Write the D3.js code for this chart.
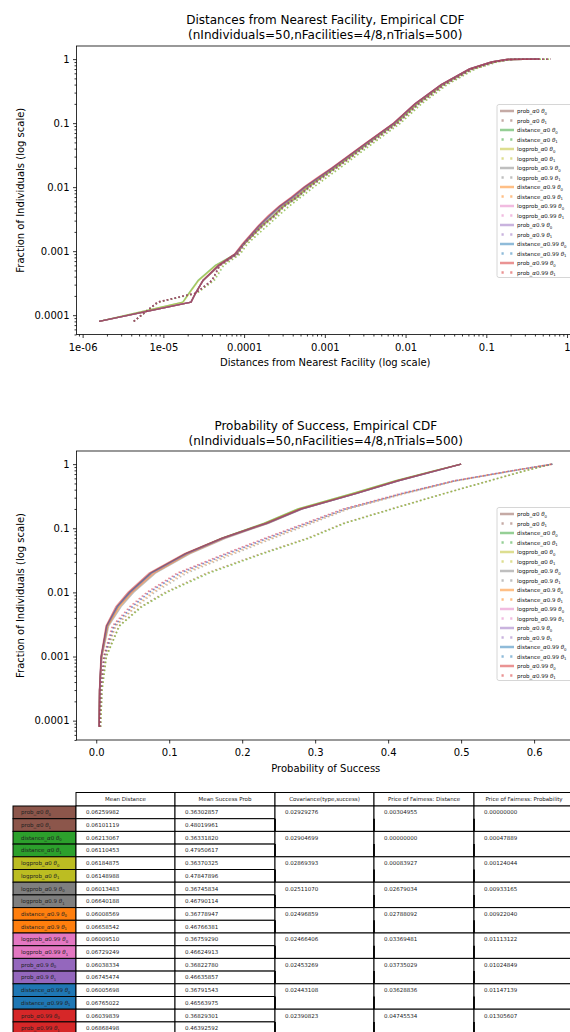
<!DOCTYPE html>
<html><head><meta charset="utf-8">
<script src="https://cdn.jsdelivr.net/npm/d3@7"></script>
<style>body{margin:0;background:#fff;} svg{display:block;font-family:"DejaVu Sans",sans-serif;}</style>
</head><body><svg id="c" width="570" height="1032"></svg>
<script>
// ---------------- series identity ----------------
const methods = ["prob","distance","logprob","logprob","distance","logprob","prob","distance","prob"];
const alphas  = ["0","0","0","0.9","0.9","0.99","0.9","0.99","0.99"];
const groupColors = ["#8c564b","#2ca02c","#bcbd22","#7f7f7f","#ff7f0e","#e377c2","#9467bd","#1f77b4","#d62728"];
const thetas = ["0","1"];

// ---------------- chart 1: distance CDF (fraction levels, distance quantiles) ----------------
const distFracLevels = [0.00008,0.00016,0.00022,0.00035,0.0006,0.0009,0.0013,0.0025,0.0036,0.005,0.007,0.01,0.014,0.02,0.05,0.1,0.2,0.4,0.7,0.9,0.99,1];
const dist_prob_a0_t0      = [1.6e-6,2.2e-5,2.5e-5,3.1e-5,5.0e-5,8.1e-5,1.0e-4,1.62e-4,2.3e-4,2.95e-4,4.3e-4,6.0e-4,8.6e-4,1.3e-3,3.45e-3,7.4e-3,0.0135,0.0283,0.063,0.118,0.182,0.46];
const dist_prob_a0_t1      = [4.3e-6,8.5e-6,2.5e-5,4.1e-5,5.0e-5,8.5e-5,1.03e-4,1.75e-4,2.5e-4,3.2e-4,4.7e-4,6.6e-4,9.6e-4,1.42e-3,3.8e-3,8.1e-3,0.0148,0.031,0.069,0.13,0.2,0.63];
const dist_distance_a0_t0  = [1.6e-6,1.74e-5,2.07e-5,2.7e-5,4.4e-5,7.8e-5,1.0e-4,1.7e-4,2.35e-4,3.1e-4,4.6e-4,6.3e-4,9.0e-4,1.36e-3,3.6e-3,7.7e-3,0.0141,0.0295,0.065,0.122,0.186,0.46];
const dist_distance_a0_t1  = [4.3e-6,8.8e-6,2.6e-5,4.3e-5,5.6e-5,9.0e-5,1.1e-4,1.95e-4,2.7e-4,3.6e-4,5.1e-4,7.3e-4,1.05e-3,1.55e-3,4.1e-3,8.7e-3,0.0158,0.033,0.073,0.136,0.21,0.64];
const dist_logprob_a0_t0   = [1.6e-6,1.76e-5,2.1e-5,2.75e-5,4.5e-5,7.9e-5,1.0e-4,1.68e-4,2.4e-4,3.05e-4,4.5e-4,6.2e-4,8.9e-4,1.34e-3,3.55e-3,7.6e-3,0.0139,0.0292,0.0645,0.121,0.185,0.46];
const dist_logprob_a0_t1   = [4.3e-6,8.7e-6,2.6e-5,4.2e-5,5.5e-5,8.9e-5,1.09e-4,1.92e-4,2.65e-4,3.55e-4,5.0e-4,7.2e-4,1.04e-3,1.53e-3,4.05e-3,8.6e-3,0.0156,0.0327,0.072,0.135,0.208,0.64];
const dist_logprob_a09_t0  = [1.6e-6,2.2e-5,2.5e-5,3.1e-5,4.9e-5,8.0e-5,1.0e-4,1.58e-4,2.15e-4,2.85e-4,4.1e-4,5.8e-4,8.5e-4,1.27e-3,3.4e-3,7.3e-3,0.0133,0.028,0.0625,0.117,0.18,0.45];
const dist_logprob_a09_t1  = [4.3e-6,8.5e-6,2.5e-5,4.0e-5,5.0e-5,8.4e-5,1.02e-4,1.72e-4,2.45e-4,3.15e-4,4.6e-4,6.5e-4,9.3e-4,1.4e-3,3.75e-3,8.0e-3,0.0146,0.0307,0.068,0.128,0.198,0.62];
const dist_distance_a09_t0 = [1.6e-6,2.2e-5,2.5e-5,3.1e-5,4.9e-5,7.9e-5,9.9e-5,1.56e-4,2.1e-4,2.8e-4,4.05e-4,5.75e-4,8.4e-4,1.26e-3,3.38e-3,7.25e-3,0.0132,0.0279,0.0622,0.116,0.179,0.45];
const dist_distance_a09_t1 = [4.3e-6,8.5e-6,2.5e-5,4.0e-5,5.0e-5,8.3e-5,1.01e-4,1.7e-4,2.4e-4,3.12e-4,4.55e-4,6.45e-4,9.2e-4,1.39e-3,3.72e-3,7.95e-3,0.0145,0.0305,0.0675,0.127,0.197,0.62];
const dist_logprob_a099_t0 = [1.6e-6,2.2e-5,2.5e-5,3.1e-5,4.8e-5,7.7e-5,9.7e-5,1.52e-4,2.05e-4,2.75e-4,3.95e-4,5.6e-4,8.2e-4,1.24e-3,3.35e-3,7.2e-3,0.0131,0.0277,0.062,0.116,0.178,0.45];
const dist_logprob_a099_t1 = [4.3e-6,8.5e-6,2.5e-5,4.0e-5,5.0e-5,8.2e-5,1.0e-4,1.68e-4,2.4e-4,3.1e-4,4.5e-4,6.4e-4,9.2e-4,1.38e-3,3.7e-3,7.9e-3,0.0144,0.0303,0.067,0.126,0.196,0.62];
const dist_prob_a09_t0     = [1.6e-6,2.2e-5,2.5e-5,3.1e-5,4.9e-5,7.8e-5,9.8e-5,1.55e-4,2.12e-4,2.78e-4,4.0e-4,5.7e-4,8.3e-4,1.25e-3,3.37e-3,7.2e-3,0.0131,0.0278,0.0621,0.116,0.179,0.45];
const dist_prob_a09_t1     = [4.3e-6,8.5e-6,2.5e-5,4.0e-5,5.0e-5,8.3e-5,1.01e-4,1.69e-4,2.42e-4,3.1e-4,4.52e-4,6.42e-4,9.2e-4,1.385e-3,3.71e-3,7.92e-3,0.0145,0.0304,0.0672,0.127,0.197,0.62];
const dist_distance_a099_t0= [1.6e-6,2.2e-5,2.5e-5,3.1e-5,4.8e-5,7.7e-5,9.7e-5,1.53e-4,2.07e-4,2.76e-4,3.98e-4,5.62e-4,8.25e-4,1.245e-3,3.36e-3,7.2e-3,0.0131,0.0277,0.062,0.116,0.178,0.45];
const dist_distance_a099_t1= [4.3e-6,8.5e-6,2.5e-5,4.0e-5,5.0e-5,8.2e-5,1.0e-4,1.67e-4,2.38e-4,3.08e-4,4.48e-4,6.38e-4,9.1e-4,1.375e-3,3.69e-3,7.88e-3,0.0144,0.0302,0.0668,0.126,0.196,0.62];
const dist_prob_a099_t0    = [1.6e-6,2.2e-5,2.5e-5,3.1e-5,4.8e-5,7.6e-5,9.5e-5,1.5e-4,2.0e-4,2.7e-4,3.85e-4,5.5e-4,8.0e-4,1.22e-3,3.3e-3,7.1e-3,0.013,0.0275,0.0615,0.115,0.177,0.45];
const dist_prob_a099_t1    = [4.3e-6,8.5e-6,2.5e-5,4.0e-5,5.0e-5,8.1e-5,9.9e-5,1.66e-4,2.36e-4,3.05e-4,4.45e-4,6.3e-4,9.0e-4,1.36e-3,3.66e-3,7.85e-3,0.0143,0.03,0.0665,0.125,0.195,0.62];

// ---------------- chart 2: success probability CDF ----------------
const succFracLevels = [0.00008,0.0003,0.001,0.003,0.006,0.01,0.02,0.04,0.07,0.12,0.2,0.35,0.55,0.8,1];
const succ_prob_a0_t0      = [0.004,0.0046,0.007,0.0145,0.029,0.046,0.075,0.123,0.173,0.232,0.279,0.354,0.412,0.466,0.5];
const succ_prob_a0_t1      = [0.006,0.0078,0.0135,0.031,0.061,0.094,0.151,0.225,0.289,0.339,0.404,0.477,0.538,0.589,0.625];
const succ_distance_a0_t0  = [0.004,0.0047,0.0072,0.015,0.03,0.047,0.076,0.123,0.172,0.23,0.276,0.351,0.41,0.465,0.5];
const succ_distance_a0_t1  = [0.006,0.008,0.014,0.032,0.063,0.097,0.155,0.228,0.292,0.341,0.406,0.478,0.539,0.59,0.625];
const succ_logprob_a0_t0   = [0.004,0.0047,0.0073,0.0152,0.0305,0.0475,0.0765,0.124,0.173,0.231,0.277,0.352,0.411,0.466,0.5];
const succ_logprob_a0_t1   = [0.006,0.0079,0.0138,0.0315,0.062,0.096,0.153,0.227,0.291,0.34,0.405,0.478,0.539,0.59,0.625];
const succ_logprob_a09_t0  = [0.004,0.0048,0.0078,0.017,0.034,0.051,0.081,0.128,0.177,0.236,0.282,0.357,0.414,0.468,0.5];
const succ_logprob_a09_t1  = [0.005,0.0065,0.012,0.027,0.055,0.08,0.124,0.189,0.243,0.296,0.346,0.424,0.494,0.575,0.625];
const succ_distance_a09_t0 = [0.004,0.0047,0.0074,0.0158,0.032,0.049,0.079,0.126,0.175,0.235,0.281,0.357,0.414,0.468,0.5];
const succ_distance_a09_t1 = [0.005,0.0064,0.0115,0.026,0.053,0.077,0.12,0.185,0.24,0.293,0.344,0.423,0.493,0.574,0.625];
const succ_logprob_a099_t0 = [0.004,0.0046,0.007,0.0148,0.03,0.0475,0.077,0.124,0.174,0.234,0.281,0.357,0.414,0.468,0.5];
const succ_logprob_a099_t1 = [0.005,0.0062,0.0105,0.0235,0.048,0.071,0.113,0.178,0.233,0.288,0.34,0.42,0.491,0.573,0.625];
const succ_prob_a09_t0     = [0.004,0.0046,0.0069,0.0145,0.029,0.046,0.075,0.123,0.173,0.234,0.281,0.357,0.414,0.468,0.5];
const succ_prob_a09_t1     = [0.005,0.0062,0.0108,0.024,0.049,0.072,0.114,0.179,0.234,0.289,0.341,0.42,0.491,0.573,0.625];
const succ_distance_a099_t0= [0.004,0.0046,0.0068,0.0142,0.0285,0.0455,0.0745,0.1225,0.173,0.234,0.281,0.357,0.414,0.468,0.5];
const succ_distance_a099_t1= [0.005,0.0063,0.011,0.0245,0.05,0.073,0.116,0.181,0.236,0.29,0.342,0.421,0.492,0.574,0.625];
const succ_prob_a099_t0    = [0.004,0.0045,0.0065,0.0135,0.027,0.0437,0.0726,0.121,0.172,0.233,0.28,0.356,0.413,0.467,0.5];
const succ_prob_a099_t1    = [0.005,0.006,0.01,0.022,0.046,0.069,0.111,0.176,0.231,0.286,0.338,0.418,0.49,0.572,0.625];

// ---------------- tick labels ----------------
const distTickValues = [1e-6,1e-5,1e-4,1e-3,1e-2,1e-1,1];
const distTickLabels = ["1e-06","1e-05","0.0001","0.001","0.01","0.1","1"];
const fracTickValues = [1e-4,1e-3,1e-2,1e-1,1];
const fracTickLabels = ["0.0001","0.001","0.01","0.1","1"];
const succTickValues = [0,0.1,0.2,0.3,0.4,0.5,0.6];
const succTickLabels = ["0.0","0.1","0.2","0.3","0.4","0.5","0.6"];

// ---------------- table ----------------
const tableHeaders = ["Mean Distance","Mean Success Prob","Covariance(type,success)","Price of Fairness: Distance","Price of Fairness: Probability"];
const meanDistance = ["0.06259982","0.06101119","0.06213067","0.06110453","0.06184875","0.06148988","0.06013483","0.06640188","0.06008569","0.06658542","0.06009510","0.06729249","0.06038334","0.06745474","0.06005698","0.06765022","0.06039839","0.06868498"];
const meanSuccess = ["0.36302857","0.48019961","0.36331820","0.47950617","0.36370325","0.47847896","0.36745834","0.46790114","0.36778947","0.46766381","0.36759290","0.46624913","0.36822780","0.46635857","0.36791543","0.46563975","0.36829301","0.46392592"];
const covariance = ["0.02929276","0.02904699","0.02869393","0.02511070","0.02496859","0.02466406","0.02453269","0.02443108","0.02390823"];
const pofDistance = ["0.00304955","0.00000000","0.00083927","0.02679034","0.02788092","0.03369481","0.03735029","0.03628836","0.04745534"];
const pofProbability = ["0.00000000","0.00047889","0.00124044","0.00933165","0.00922040","0.01113122","0.01024849","0.01147139","0.01305607"];

// ---------------- assemble ----------------
const distSeries = [dist_prob_a0_t0,dist_prob_a0_t1,dist_distance_a0_t0,dist_distance_a0_t1,dist_logprob_a0_t0,dist_logprob_a0_t1,dist_logprob_a09_t0,dist_logprob_a09_t1,dist_distance_a09_t0,dist_distance_a09_t1,dist_logprob_a099_t0,dist_logprob_a099_t1,dist_prob_a09_t0,dist_prob_a09_t1,dist_distance_a099_t0,dist_distance_a099_t1,dist_prob_a099_t0,dist_prob_a099_t1];
const succSeries = [succ_prob_a0_t0,succ_prob_a0_t1,succ_distance_a0_t0,succ_distance_a0_t1,succ_logprob_a0_t0,succ_logprob_a0_t1,succ_logprob_a09_t0,succ_logprob_a09_t1,succ_distance_a09_t0,succ_distance_a09_t1,succ_logprob_a099_t0,succ_logprob_a099_t1,succ_prob_a09_t0,succ_prob_a09_t1,succ_distance_a099_t0,succ_distance_a099_t1,succ_prob_a099_t0,succ_prob_a099_t1];
const entries = [];
methods.forEach((m,g)=>thetas.forEach(t=>entries.push({method:m,alpha:alphas[g],theta:t,color:groupColors[g],group:g})));

const svg = d3.select("#c");
const FONT = '"DejaVu Sans", sans-serif';

function label(sel, e, fs){
  sel.append("tspan").text(e.method+"_");
  sel.append("tspan").attr("font-style","italic").text("α");
  sel.append("tspan").text(e.alpha+" ");
  sel.append("tspan").attr("font-style","italic").text("θ");
  sel.append("tspan").attr("font-size",fs*0.7).attr("dy",fs*0.28).text(e.theta);
}

function logMargin(ext){
  const lo=Math.log10(ext[0]), hi=Math.log10(ext[1]), m=(hi-lo)*0.05;
  return [Math.pow(10,lo-m), Math.pow(10,hi+m)];
}
function linMargin(ext){ const m=(ext[1]-ext[0])*0.05; return [ext[0]-m, ext[1]+m]; }
function logMinors(dom){
  const out=[]; for(let k=-8;k<=1;k++) for(let m=2;m<=9;m++){const v=m*Math.pow(10,k); if(v>=dom[0]&&v<=dom[1]) out.push(v);} return out;
}

function drawChart(o){
  const g = svg.append("g");
  const {left,right,top,bottom} = o;
  const x = o.x.range([left,right]);
  const y = d3.scaleLog().domain(logMargin([d3.min(o.levels),d3.max(o.levels)])).range([bottom,top]);
  const cid = "clip"+o.id;
  svg.append("clipPath").attr("id",cid).append("rect").attr("x",left).attr("y",top).attr("width",right-left).attr("height",bottom-top);

  // lines
  const line = d3.line().x(d=>x(d[0])).y(d=>y(d[1]));
  const lg = g.append("g").attr("clip-path",`url(#${cid})`);
  o.series.forEach((vals,i)=>{
    const e = entries[i];
    const pts = vals.map((v,j)=>[v,o.levels[j]]);
    lg.append("path").attr("d",line(pts)).attr("fill","none")
      .attr("stroke",e.color).attr("stroke-opacity",0.5).attr("stroke-width",1.5)
      .attr("stroke-dasharray", e.theta==="1" ? "1.5,2.5" : null);
  });

  // axes
  const styleAxis = a => { a.select(".domain").remove(); a.selectAll("text").attr("font-size",10).attr("font-family",FONT).attr("fill","#000"); a.selectAll("line").attr("stroke","#000").attr("stroke-width",0.8); };
  const xa = g.append("g").attr("transform",`translate(0,${bottom})`)
    .call(d3.axisBottom(x).tickValues(o.xTicks).tickFormat((d,i)=>o.xLabels[i]).tickSize(3.5).tickPadding(5.5).tickSizeOuter(0));
  styleAxis(xa);
  if(o.xMinor){
    const xm = g.append("g").attr("transform",`translate(0,${bottom})`)
      .call(d3.axisBottom(x).tickValues(logMinors(x.domain())).tickFormat("").tickSize(2).tickSizeOuter(0));
    styleAxis(xm);
  }
  const ya = g.append("g").attr("transform",`translate(${left},0)`)
    .call(d3.axisLeft(y).tickValues(fracTickValues).tickFormat((d,i)=>fracTickLabels[i]).tickSize(3.5).tickPadding(3.5).tickSizeOuter(0));
  styleAxis(ya);
  const ym = g.append("g").attr("transform",`translate(${left},0)`)
    .call(d3.axisLeft(y).tickValues(logMinors(y.domain())).tickFormat("").tickSize(2).tickSizeOuter(0));
  styleAxis(ym);

  g.append("rect").attr("x",left).attr("y",top).attr("width",right-left).attr("height",bottom-top)
    .attr("fill","none").attr("stroke","#000").attr("stroke-width",0.8);

  // titles
  const cx=(left+right)/2;
  g.append("text").attr("x",cx).attr("y",o.titleY).attr("text-anchor","middle").attr("font-size",12).attr("font-family",FONT).text(o.title1);
  g.append("text").attr("x",cx).attr("y",o.titleY+15).attr("text-anchor","middle").attr("font-size",12).attr("font-family",FONT).text(o.title2);
  g.append("text").attr("x",cx).attr("y",o.xLabelY).attr("text-anchor","middle").attr("font-size",10).attr("font-family",FONT).text(o.xLabel);
  g.append("text").attr("transform",`translate(23.5,${(top+bottom)/2}) rotate(-90)`).attr("text-anchor","middle").attr("font-size",10).attr("font-family",FONT).text("Fraction of Individuals (log scale)");

  // legend
  const rowH=9.5, first=o.legendY, fs=5.5;
  const lgd = g.append("g");
  lgd.append("rect").attr("x",497).attr("y",first-6.5).attr("width",80).attr("height",(entries.length-1)*rowH+11.5)
    .attr("rx",2).attr("fill","#fff").attr("fill-opacity",0.8).attr("stroke","#ccc").attr("stroke-width",0.8);
  entries.forEach((e,i)=>{
    const yy = first+i*rowH;
    lgd.append("line").attr("x1",500).attr("x2",514).attr("y1",yy).attr("y2",yy)
      .attr("stroke",e.color).attr("stroke-opacity",0.5).attr("stroke-width",2.5)
      .attr("stroke-dasharray", e.theta==="1" ? "2.2,6.5" : null).attr("stroke-dashoffset", e.theta==="1" ? -1.5 : null);
    const t = lgd.append("text").attr("x",517).attr("y",yy+2).attr("font-size",fs).attr("font-family",FONT).attr("fill","#111");
    label(t,e,fs);
  });
}

drawChart({id:1, left:76.5, right:574, top:46, bottom:334.5,
  x: d3.scaleLog().domain(logMargin(d3.extent(distSeries.flat()))),
  levels: distFracLevels, series: distSeries,
  xTicks: distTickValues, xLabels: distTickLabels, xMinor:true,
  title1:"Distances from Nearest Facility, Empirical CDF", title2:"(nIndividuals=50,nFacilities=4/8,nTrials=500)", titleY:23.5,
  xLabel:"Distances from Nearest Facility (log scale)", xLabelY:366, legendY:111});

drawChart({id:2, left:76.5, right:575, top:451, bottom:740,
  x: d3.scaleLinear().domain(linMargin(d3.extent(succSeries.flat()))),
  levels: succFracLevels, series: succSeries,
  xTicks: succTickValues, xLabels: succTickLabels, xMinor:false,
  title1:"Probability of Success, Empirical CDF", title2:"(nIndividuals=50,nFacilities=4/8,nTrials=500)", titleY:429.5,
  xLabel:"Probability of Success", xLabelY:772, legendY:514});

// ---------------- table ----------------
(function(){
  const colX = [13,76,175,275,374,474,574];
  const headTop=792.5, headH=13.5, rowH=12.7, fs=5.5;
  const bodyTop = headTop+headH;
  const tg = svg.append("g").attr("font-family",FONT).attr("font-size",fs);
  const cell = (x0,x1,y0,h,fill)=>tg.append("rect").attr("x",x0).attr("y",y0).attr("width",x1-x0).attr("height",h).attr("fill",fill).attr("stroke","#000").attr("stroke-width",1);
  tableHeaders.forEach((h,i)=>{
    cell(colX[i+1],colX[i+2],headTop,headH,"#fff");
    tg.append("text").attr("x",(colX[i+1]+colX[i+2])/2).attr("y",headTop+headH/2+2).attr("text-anchor","middle").attr("fill","#222").text(h);
  });
  entries.forEach((e,r)=>{
    const y0 = bodyTop + r*rowH;
    cell(colX[0],colX[1],y0,rowH,e.color);
    const t = tg.append("text").attr("x",colX[0]+8).attr("y",y0+rowH/2+2).attr("fill","#222");
    label(t,e,fs);
    cell(colX[1],colX[2],y0,rowH,"#fff");
    tg.append("text").attr("x",colX[1]+10).attr("y",y0+rowH/2+2).attr("fill","#222").text(meanDistance[r]);
    cell(colX[2],colX[3],y0,rowH,"#fff");
    tg.append("text").attr("x",colX[2]+10).attr("y",y0+rowH/2+2).attr("fill","#222").text(meanSuccess[r]);
  });
  [covariance,pofDistance,pofProbability].forEach((arr,c)=>{
    arr.forEach((v,k)=>{
      const y0 = bodyTop + 2*k*rowH;
      cell(colX[3+c],colX[4+c],y0,2*rowH,"#fff");
      tg.append("line").attr("x1",colX[3+c]).attr("x2",colX[3+c]).attr("y1",y0+rowH).attr("y2",y0+2*rowH).attr("stroke","#000").attr("stroke-width",1.8);
      tg.append("text").attr("x",colX[3+c]+10).attr("y",y0+rowH/2+2).attr("fill","#222").text(v);
    });
  });
})();
</script></body></html>
